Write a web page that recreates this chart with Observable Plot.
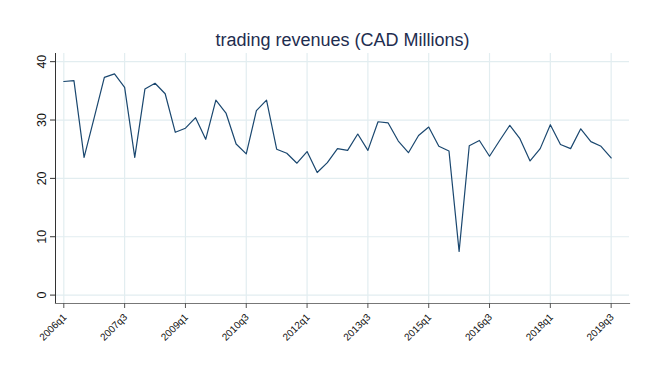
<!DOCTYPE html>
<html><head><meta charset="utf-8">
<script src="https://cdn.jsdelivr.net/npm/d3@7"></script>
<script src="https://cdn.jsdelivr.net/npm/@observablehq/plot@0.6"></script>
<style>body{margin:0;background:#fff}</style>
</head><body><div id="chart"></div>
<script>
const quarters = [
  "2006q1","2006q2","2006q3","2006q4","2007q1","2007q2","2007q3","2007q4",
  "2008q1","2008q2","2008q3","2008q4","2009q1","2009q2","2009q3","2009q4",
  "2010q1","2010q2","2010q3","2010q4","2011q1","2011q2","2011q3","2011q4",
  "2012q1","2012q2","2012q3","2012q4","2013q1","2013q2","2013q3","2013q4",
  "2014q1","2014q2","2014q3","2014q4","2015q1","2015q2","2015q3","2015q4",
  "2016q1","2016q2","2016q3","2016q4","2017q1","2017q2","2017q3","2017q4",
  "2018q1","2018q2","2018q3","2018q4","2019q1","2019q2","2019q3"
];
const revenues = [
  36.6, 36.75, 23.6, 30.4, 37.3, 37.9, 35.6, 23.6,
  35.3, 36.3, 34.5, 27.9, 28.6, 30.4, 26.7, 33.4,
  31.2, 25.9, 24.2, 31.6, 33.4, 25.0, 24.3, 22.6,
  24.6, 21.0, 22.7, 25.1, 24.8, 27.6, 24.8, 29.7,
  29.5, 26.4, 24.4, 27.35, 28.8, 25.5, 24.7, 7.5,
  25.6, 26.5, 23.8, 26.5, 29.1, 26.8, 23.0, 25.1,
  29.2, 25.8, 25.1, 28.5, 26.3, 25.5, 23.5
];
const xTickLabels = ["2006q1","2007q3","2009q1","2010q3","2012q1","2013q3","2015q1","2016q3","2018q1","2019q3"];
const yTicks = [0, 10, 20, 30, 40];
const title = "trading revenues (CAD Millions)";

const data = quarters.map((q, i) => ({i, q, v: revenues[i]}));
const tickIdx = xTickLabels.map(l => quarters.indexOf(l));
const font = "'Liberation Sans', Arial, Helvetica, sans-serif";

const chart = Plot.plot({
  width: 660, height: 377,
  marginLeft: 55, marginRight: 31, marginTop: 53, marginBottom: 74,
  style: {fontFamily: font, background: "#fff", overflow: "visible"},
  x: {type: "linear", domain: [-0.82, 55.81], axis: null, label: null},
  y: {domain: [-1.44, 41.4], axis: null, label: null},
  marks: [
    Plot.gridX(tickIdx, {stroke: "#e2edf0", strokeOpacity: 1, strokeWidth: 1.2}),
    Plot.gridY(yTicks, {stroke: "#e2edf0", strokeOpacity: 1, strokeWidth: 1.2}),
    Plot.frame({anchor: "left", stroke: "#333", strokeWidth: 1}),
    Plot.frame({anchor: "bottom", stroke: "#777", strokeWidth: 1.2}),
    Plot.axisY(yTicks, {tickSize: 5, tickFormat: () => "", stroke: "#333", label: null}),
    Plot.axisX(tickIdx, {tickSize: 5, tickFormat: () => "", stroke: "#555", label: null}),
    Plot.text(yTicks, {y: d => d, text: d => String(d), frameAnchor: "left", dx: -13.5,
      rotate: -90, textAnchor: "middle", lineAnchor: "middle", fontSize: 12.5, fill: "#111"}),
    Plot.text(tickIdx, {x: d => d, text: (d, k) => xTickLabels[k], frameAnchor: "bottom", dy: 12, dx: 1,
      rotate: -45, textAnchor: "end", lineAnchor: "middle", fontSize: 10, fill: "#111"}),
    Plot.line(data, {x: "i", y: "v", stroke: "#1a476f", strokeWidth: 1.2}),
    Plot.text([title], {text: d => d, frameAnchor: "top", dy: -13, lineAnchor: "middle",
      fontSize: 18, fill: "#1e2d4f"})
  ]
});
document.getElementById("chart").appendChild(chart);
</script>
</body></html>
